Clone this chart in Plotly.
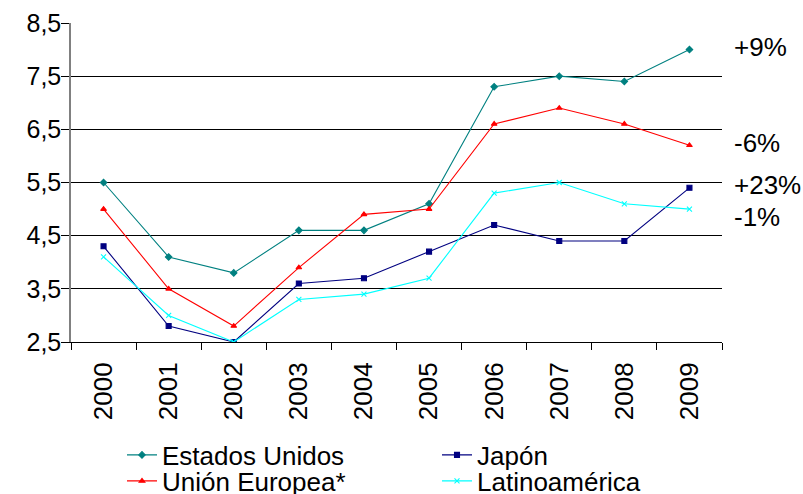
import plotly.graph_objects as go

years = ["2000", "2001", "2002", "2003", "2004", "2005", "2006", "2007", "2008", "2009"]
estados_unidos = [5.5, 4.1, 3.8, 4.6, 4.6, 5.1, 7.3, 7.5, 7.4, 8.0]
union_europea = [5.0, 3.5, 2.8, 3.9, 4.9, 5.0, 6.6, 6.9, 6.6, 6.2]
japon = [4.3, 2.8, 2.5, 3.6, 3.7, 4.2, 4.7, 4.4, 4.4, 5.4]
latinoamerica = [4.1, 3.0, 2.5, 3.3, 3.4, 3.7, 5.3, 5.5, 5.1, 5.0]
y_ticks = [2.5, 3.5, 4.5, 5.5, 6.5, 7.5, 8.5]
y_tick_labels = ["2,5", "3,5", "4,5", "5,5", "6,5", "7,5", "8,5"]
change_labels = ["+9%", "-6%", "+23%", "-1%"]
change_label_y = [8.05, 6.25, 5.45, 4.85]

FONT = "Liberation Sans, Arial, sans-serif"
W, H = 803, 494

series = [
    ("Estados Unidos", estados_unidos, "#008080", "diamond", "legend"),
    ("Japón", japon, "#000080", "square", "legend2"),
    ("Unión Europea*", union_europea, "#FF0000", "triangle-up", "legend3"),
    ("Latinoamérica", latinoamerica, "#00FFFF", "x-thin-open", "legend4"),
]

fig = go.Figure()
for name, vals, color, sym, lg in series:
    fig.add_trace(go.Scatter(
        x=years, y=vals, name=name, mode="lines+markers",
        line=dict(color=color, width=1.1),
        marker=dict(symbol=sym, size=5, color=color, line=dict(color=color, width=1.1)),
        legend=lg,
    ))

for txt, yv in zip(change_labels, change_label_y):
    fig.add_annotation(
        x=1.0, xref="paper", xshift=10, y=yv, yref="y",
        text=txt, showarrow=False, xanchor="left", yanchor="middle",
        font=dict(family=FONT, size=26, color="#000000"),
    )

def legend_at(px, py):
    return dict(
        xref="container", yref="container",
        x=px / W, xanchor="left", y=1 - py / H, yanchor="middle",
        font=dict(family=FONT, size=26, color="#000000"),
        bgcolor="rgba(0,0,0,0)", borderwidth=0, itemwidth=30,
    )

fig.update_layout(
    width=W, height=H,
    margin=dict(l=71, r=81, t=23, b=152, autoexpand=False),
    paper_bgcolor="white", plot_bgcolor="white",
    font=dict(family=FONT, size=26, color="#000000"),
    showlegend=True,
    legend=legend_at(122, 455),
    legend2=legend_at(437, 455),
    legend3=legend_at(122, 481),
    legend4=legend_at(437, 481),
    xaxis=dict(
        type="category", range=[-0.5, 9.5],
        showline=True, linecolor="#000000", linewidth=1,
        ticks="outside", ticklen=7, tickcolor="#000000", tickson="boundaries",
        tickangle=-90, showgrid=False, zeroline=False, automargin=False,
        ticklabelstandoff=9,
        tickfont=dict(family=FONT, size=26, color="#000000"),
    ),
    yaxis=dict(
        range=[2.5, 8.5], tickvals=y_ticks, ticktext=y_tick_labels,
        showline=True, linecolor="#808080", linewidth=1.5,
        ticks="outside", ticklen=8, tickcolor="#000000", automargin=False,
        showgrid=True, gridcolor="#000000", gridwidth=1, zeroline=False,
        ticklabelstandoff=-5,
        tickfont=dict(family=FONT, size=25, color="#000000"),
    ),
)

fig.write_html("out.html", config={"displayModeBar": False},
               post_script="document.body.style.margin='0';")
